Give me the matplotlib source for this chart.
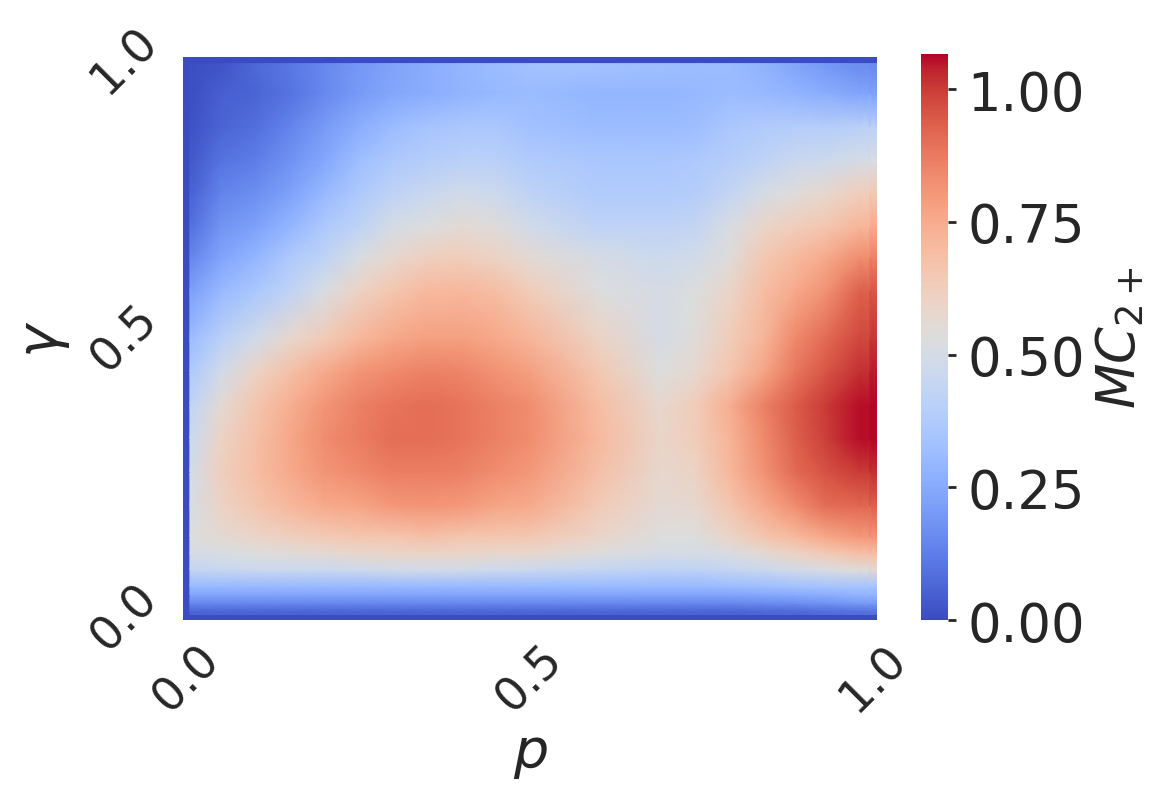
import numpy as np
import matplotlib
matplotlib.use("Agg")
import matplotlib.pyplot as plt
from matplotlib.colors import Normalize

# ---- data (value of MC_{2+} on a (gamma, p) grid) ----
p_values = [0.0, 0.01, 0.05, 0.1, 0.15, 0.2, 0.25, 0.3, 0.35, 0.4, 0.45, 0.5,
            0.6, 0.69, 0.74, 0.79, 0.84, 0.885, 0.93, 0.98, 1.0]
gamma_values = [0.0, 0.01, 0.025, 0.04, 0.055, 0.085, 0.114, 0.144, 0.2, 0.26,
                0.32, 0.38, 0.44, 0.5, 0.586, 0.645, 0.70, 0.76, 0.82, 0.88,
                0.94, 0.985, 1.0]
mc_rows = [
    [0] * 21,
    [0, 0.06, 0.06, 0.06, 0.06, 0.06, 0.06, 0.06, 0.06, 0.06, 0.06, 0.06, 0.06, 0.06, 0.06, 0.06, 0.07, 0.07, 0.08, 0.09, 0.09],
    [0, 0.15, 0.15, 0.15, 0.15, 0.15, 0.15, 0.15, 0.15, 0.15, 0.15, 0.15, 0.15, 0.15, 0.15, 0.15, 0.16, 0.17, 0.18, 0.20, 0.20],
    [0, 0.23, 0.23, 0.23, 0.23, 0.23, 0.23, 0.23, 0.23, 0.23, 0.23, 0.23, 0.23, 0.23, 0.23, 0.23, 0.24, 0.25, 0.26, 0.28, 0.28],
    [0, 0.30, 0.30, 0.30, 0.30, 0.30, 0.30, 0.30, 0.30, 0.30, 0.30, 0.30, 0.30, 0.30, 0.30, 0.31, 0.32, 0.33, 0.34, 0.34, 0.34],
    [0, 0.44, 0.45, 0.46, 0.46, 0.46, 0.47, 0.485, 0.485, 0.485, 0.47, 0.46, 0.44, 0.42, 0.42, 0.44, 0.46, 0.485, 0.515, 0.545, 0.56],
    [0, 0.50, 0.515, 0.53, 0.545, 0.56, 0.575, 0.59, 0.59, 0.59, 0.575, 0.575, 0.53, 0.50, 0.50, 0.515, 0.56, 0.603, 0.64, 0.68, 0.69],
    [0, 0.53, 0.56, 0.59, 0.617, 0.64, 0.66, 0.66, 0.68, 0.66, 0.66, 0.65, 0.59, 0.53, 0.53, 0.59, 0.66, 0.70, 0.76, 0.80, 0.81],
    [0, 0.515, 0.603, 0.66, 0.71, 0.75, 0.77, 0.80, 0.81, 0.80, 0.77, 0.75, 0.64, 0.56, 0.575, 0.66, 0.75, 0.83, 0.90, 0.92, 0.93],
    [0, 0.50, 0.617, 0.69, 0.75, 0.81, 0.84, 0.87, 0.87, 0.86, 0.83, 0.80, 0.68, 0.575, 0.603, 0.71, 0.82, 0.91, 0.96, 1.00, 1.02],
    [0, 0.47, 0.603, 0.68, 0.76, 0.83, 0.87, 0.90, 0.90, 0.89, 0.86, 0.83, 0.70, 0.59, 0.63, 0.72, 0.84, 0.93, 0.995, 1.055, 1.066],
    [0, 0.438, 0.56, 0.66, 0.74, 0.81, 0.86, 0.89, 0.90, 0.89, 0.86, 0.83, 0.69, 0.575, 0.63, 0.74, 0.86, 0.94, 1.00, 1.055, 1.066],
    [0, 0.378, 0.485, 0.603, 0.68, 0.75, 0.81, 0.84, 0.86, 0.85, 0.82, 0.78, 0.65, 0.53, 0.575, 0.66, 0.77, 0.88, 0.95, 1.02, 1.045],
    [0, 0.32, 0.406, 0.485, 0.575, 0.64, 0.71, 0.76, 0.78, 0.78, 0.76, 0.72, 0.603, 0.50, 0.545, 0.63, 0.72, 0.84, 0.91, 0.98, 1.01],
    [0, 0.222, 0.30, 0.355, 0.422, 0.515, 0.603, 0.66, 0.70, 0.71, 0.69, 0.63, 0.53, 0.50, 0.53, 0.59, 0.69, 0.75, 0.82, 0.93, 0.95],
    [0, 0.15, 0.231, 0.29, 0.367, 0.422, 0.515, 0.575, 0.617, 0.63, 0.603, 0.56, 0.50, 0.47, 0.485, 0.545, 0.65, 0.70, 0.75, 0.83, 0.86],
    [0, 0.096, 0.186, 0.222, 0.29, 0.367, 0.422, 0.50, 0.53, 0.56, 0.545, 0.485, 0.422, 0.422, 0.438, 0.515, 0.59, 0.63, 0.66, 0.72, 0.75],
    [0, 0.06, 0.141, 0.168, 0.222, 0.30, 0.367, 0.422, 0.454, 0.485, 0.47, 0.422, 0.378, 0.378, 0.39, 0.438, 0.50, 0.545, 0.575, 0.63, 0.65],
    [0, 0.036, 0.096, 0.123, 0.177, 0.24, 0.32, 0.367, 0.39, 0.406, 0.406, 0.378, 0.355, 0.355, 0.367, 0.39, 0.422, 0.454, 0.47, 0.50, 0.515],
    [0, 0.018, 0.06, 0.087, 0.141, 0.204, 0.26, 0.31, 0.343, 0.355, 0.355, 0.332, 0.31, 0.31, 0.32, 0.355, 0.378, 0.39, 0.39, 0.406, 0.406],
    [0, 0.012, 0.048, 0.06, 0.096, 0.15, 0.204, 0.24, 0.26, 0.28, 0.30, 0.31, 0.29, 0.29, 0.30, 0.31, 0.30, 0.28, 0.26, 0.231, 0.222],
    [0, 0.012, 0.024, 0.069, 0.105, 0.15, 0.195, 0.231, 0.26, 0.29, 0.31, 0.332, 0.332, 0.32, 0.31, 0.31, 0.28, 0.24, 0.204, 0.168, 0.159],
    [0] * 21,
]
x_ticks = [0.0, 0.5, 1.0]
y_ticks = [0.0, 0.5, 1.0]
cbar_ticks = [0.0, 0.25, 0.5, 0.75, 1.0]

# ---- build mesh with sharp boundary cells (cell half-width 0.005) ----
def expand(v, half=0.005, eps=1e-4):
    n = len(v)
    coords = [v[0] - half, v[0] + half, v[0] + half + eps] + list(v[1:-1]) + \
             [v[-1] - half - eps, v[-1] - half, v[-1] + half]
    ids = [0, 0, 1] + list(range(1, n - 1)) + [n - 2, n - 1, n - 1]
    return np.array(coords), np.array(ids)

Z = np.array(mc_rows, dtype=float)
xc, xi = expand(p_values)
yc, yi = expand(gamma_values)
ZZ = Z[np.ix_(yi, xi)]
XX, YY = np.meshgrid(xc, yc)

plt.rcParams['font.family'] = ['DejaVu Sans']
plt.rcParams['mathtext.fontset'] = 'dejavusans'
text_color = '#262626'

fig = plt.figure(figsize=(11.62, 8.04), dpi=100)
ax = fig.add_axes([0.1575, 0.2276, 0.5972, 0.7003])
cax = fig.add_axes([0.7926, 0.2276, 0.0232, 0.7040])

norm = Normalize(vmin=0.0, vmax=Z.max())
mesh = ax.pcolormesh(XX, YY, ZZ, cmap='coolwarm', norm=norm, shading='gouraud',
                     rasterized=True)
ax.set_xlim(-0.005, 1.005)
ax.set_ylim(-0.005, 1.005)
for s in ax.spines.values():
    s.set_visible(False)

ax.set_xticks(x_ticks)
ax.set_xticklabels([f"{t:.1f}" for t in x_ticks], rotation=45, ha='center')
ax.set_yticks(y_ticks)
ax.set_yticklabels([f"{t:.1f}" for t in y_ticks], rotation=45, va='center')
ax.tick_params(axis='both', length=0, labelsize=33, colors=text_color, pad=12)
ax.set_xlabel(r'$p$', fontsize=40, color=text_color, labelpad=4)
ax.set_ylabel(r'$\gamma$', fontsize=40, color=text_color, labelpad=8)

cb = fig.colorbar(mesh, cax=cax, ticks=cbar_ticks)
cb.outline.set_visible(False)
cb.ax.set_yticklabels([f"{t:.2f}" for t in cbar_ticks])
cb.ax.tick_params(labelsize=38, colors=text_color, length=6, width=2, pad=8)
cb.set_label(r'$MC_{2+}$', fontsize=38, color=text_color, labelpad=6)

fig.savefig('out.png', dpi=100, facecolor='white')
